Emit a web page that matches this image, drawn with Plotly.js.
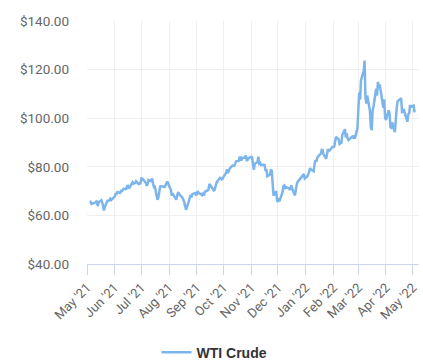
<!DOCTYPE html>
<html>
<head>
<meta charset="utf-8">
<script src="https://cdn.plot.ly/plotly-3.0.1.min.js"></script>
<style>
  html, body { margin: 0; padding: 0; background: #ffffff; }
  #chart { width: 423px; height: 362px; }
</style>
</head>
<body>
<div id="chart"></div>
<script>
const seriesName = "WTI Crude";

const dates = [
  "2021-05-04","2021-05-05","2021-05-06","2021-05-07","2021-05-10","2021-05-11","2021-05-12","2021-05-13","2021-05-14",
  "2021-05-17","2021-05-18","2021-05-19","2021-05-20","2021-05-21","2021-05-24","2021-05-25","2021-05-26","2021-05-27","2021-05-28",
  "2021-06-01","2021-06-02","2021-06-03","2021-06-04","2021-06-07","2021-06-08","2021-06-09","2021-06-10","2021-06-11",
  "2021-06-14","2021-06-15","2021-06-16","2021-06-17","2021-06-18","2021-06-21","2021-06-22","2021-06-23","2021-06-24","2021-06-25",
  "2021-06-28","2021-06-29","2021-06-30",
  "2021-07-01","2021-07-02","2021-07-06","2021-07-07","2021-07-08","2021-07-09","2021-07-12","2021-07-13","2021-07-14","2021-07-15","2021-07-16",
  "2021-07-19","2021-07-20","2021-07-21","2021-07-22","2021-07-23","2021-07-26","2021-07-27","2021-07-28","2021-07-29","2021-07-30",
  "2021-08-02","2021-08-03","2021-08-04","2021-08-05","2021-08-06","2021-08-09","2021-08-10","2021-08-11","2021-08-12","2021-08-13",
  "2021-08-16","2021-08-17","2021-08-18","2021-08-19","2021-08-20","2021-08-23","2021-08-24","2021-08-25","2021-08-26","2021-08-27",
  "2021-08-30","2021-08-31",
  "2021-09-01","2021-09-02","2021-09-03","2021-09-07","2021-09-08","2021-09-09","2021-09-10","2021-09-13","2021-09-14","2021-09-15",
  "2021-09-16","2021-09-17","2021-09-20","2021-09-21","2021-09-22","2021-09-23","2021-09-24","2021-09-27","2021-09-28","2021-09-29","2021-09-30",
  "2021-10-01","2021-10-04","2021-10-05","2021-10-06","2021-10-07","2021-10-08","2021-10-11","2021-10-12","2021-10-13","2021-10-14",
  "2021-10-15","2021-10-18","2021-10-19","2021-10-20","2021-10-21","2021-10-22","2021-10-25","2021-10-26","2021-10-27","2021-10-28","2021-10-29",
  "2021-11-01","2021-11-02","2021-11-03","2021-11-04","2021-11-05","2021-11-08","2021-11-09","2021-11-10","2021-11-11","2021-11-12",
  "2021-11-15","2021-11-16","2021-11-17","2021-11-18","2021-11-19","2021-11-22","2021-11-23","2021-11-24","2021-11-26","2021-11-29","2021-11-30",
  "2021-12-01","2021-12-02","2021-12-03","2021-12-06","2021-12-07","2021-12-08","2021-12-09","2021-12-10","2021-12-13","2021-12-14",
  "2021-12-15","2021-12-16","2021-12-17","2021-12-20","2021-12-21","2021-12-22","2021-12-23","2021-12-27","2021-12-28","2021-12-29",
  "2021-12-30","2021-12-31",
  "2022-01-03","2022-01-04","2022-01-05","2022-01-06","2022-01-07","2022-01-10","2022-01-11","2022-01-12","2022-01-13","2022-01-14",
  "2022-01-18","2022-01-19","2022-01-20","2022-01-21","2022-01-24","2022-01-25","2022-01-26","2022-01-27","2022-01-28","2022-01-31",
  "2022-02-01","2022-02-02","2022-02-03","2022-02-04","2022-02-07","2022-02-08","2022-02-09","2022-02-10","2022-02-11","2022-02-14",
  "2022-02-15","2022-02-16","2022-02-17","2022-02-18","2022-02-22","2022-02-23","2022-02-24","2022-02-25","2022-02-28",
  "2022-03-01","2022-03-02","2022-03-03","2022-03-04","2022-03-07","2022-03-08","2022-03-09","2022-03-10","2022-03-11","2022-03-14",
  "2022-03-15","2022-03-16","2022-03-17","2022-03-18","2022-03-21","2022-03-22","2022-03-23","2022-03-24","2022-03-25","2022-03-28",
  "2022-03-29","2022-03-30","2022-03-31",
  "2022-04-01","2022-04-04","2022-04-05","2022-04-06","2022-04-07","2022-04-08","2022-04-11","2022-04-12","2022-04-13","2022-04-14",
  "2022-04-18","2022-04-19","2022-04-20","2022-04-21","2022-04-22","2022-04-25","2022-04-26","2022-04-27","2022-04-28","2022-04-29",
  "2022-05-02","2022-05-03"
];

const prices = [
  65.69,65.63,64.71,64.90,65.28,65.37,66.08,63.82,65.37,
  66.27,65.49,63.36,62.05,63.58,66.05,66.07,66.21,66.85,66.32,
  67.72,68.83,68.81,69.62,69.23,70.05,69.96,70.29,70.91,
  70.88,72.12,72.15,71.04,71.64,73.66,73.06,73.08,73.30,74.05,
  72.91,72.98,73.47,
  75.23,75.16,73.37,72.20,72.94,74.56,74.10,75.25,73.13,71.65,71.81,
  66.42,67.42,70.30,71.91,72.07,71.91,71.65,72.39,73.62,73.95,
  71.26,70.56,68.15,69.09,68.28,66.48,68.29,69.25,69.09,68.44,
  67.29,66.59,65.46,63.69,62.32,65.64,67.54,68.36,67.42,68.74,
  69.21,68.50,
  68.59,69.99,69.29,68.35,69.30,68.14,69.72,70.45,70.46,72.61,
  72.61,71.97,70.29,70.56,72.23,73.30,73.98,75.45,75.29,74.83,75.03,
  75.88,77.62,78.93,77.43,78.30,79.35,80.52,80.64,80.44,81.31,
  82.28,82.44,83.87,83.87,82.50,83.76,83.76,84.65,82.66,82.81,83.57,
  84.05,83.91,80.86,78.81,81.27,81.93,84.15,81.34,81.59,80.79,
  80.88,80.76,78.36,79.01,76.10,76.75,78.50,78.39,68.15,69.95,66.18,
  65.57,66.50,66.26,69.49,72.05,72.36,70.94,71.67,71.29,70.73,
  70.87,72.38,70.86,68.23,71.12,72.76,73.79,75.57,75.98,76.56,
  76.99,75.21,
  76.08,76.99,77.85,79.46,78.90,78.23,81.22,82.64,82.12,83.82,
  85.43,86.96,86.90,85.14,83.31,85.60,87.35,86.61,86.82,88.15,
  88.20,88.26,90.27,92.31,91.32,89.36,89.66,89.88,93.10,95.46,
  92.07,93.66,91.76,91.07,92.35,92.10,92.81,91.59,95.72,
  103.41,110.60,107.67,115.68,119.40,123.70,108.70,106.02,109.33,103.01,
  96.44,95.04,102.98,104.70,112.12,109.27,114.93,112.34,113.90,105.96,
  104.24,107.82,100.28,
  99.27,103.28,101.96,96.23,96.03,98.26,94.29,100.60,104.25,106.95,
  108.21,102.56,102.75,103.79,102.07,98.54,101.70,102.02,105.36,104.69,
  105.17,102.41
];

const yTicks = [40, 60, 80, 100, 120, 140];
const xRange = ["2021-05-01", "2022-05-08"];

const trace = {
  x: dates,
  y: prices,
  type: "scatter",
  mode: "lines",
  name: seriesName,
  line: { color: "#7cb5ec", width: 2.5 },
  showlegend: true
};

const layout = {
  width: 423,
  height: 362,
  margin: { l: 87, r: 4, t: 21, b: 98, autoexpand: false },
  paper_bgcolor: "#ffffff",
  plot_bgcolor: "#ffffff",
  font: { family: "Roboto, 'Open Sans', sans-serif", size: 13, color: "#666666" },
  xaxis: {
    type: "date",
    range: xRange,
    dtick: "M1",
    tick0: "2021-05-01",
    tickformat: "%b '%y",
    tickangle: -45,
    ticks: "outside",
    ticklen: 10,
    tickcolor: "#ccd6eb",
    showline: true,
    linecolor: "#ccd6eb",
    linewidth: 1,
    showgrid: true,
    gridcolor: "#f0f0f0",
    gridwidth: 1,
    zeroline: false,
    automargin: false,
    tickfont: { family: "Roboto, sans-serif", size: 13, color: "#666666" }
  },
  yaxis: {
    range: [40, 140],
    tickvals: yTicks,
    tickformat: "$.2f",
    showgrid: true,
    gridcolor: "#f0f0f0",
    gridwidth: 1,
    zeroline: false,
    showline: false,
    ticks: "",
    automargin: false,
    ticklabelstandoff: 17,
    tickfont: { family: "Roboto, sans-serif", size: 13.5, color: "#666666" }
  },
  legend: {
    orientation: "h",
    x: 0.384,
    xanchor: "center",
    y: -0.365,
    yanchor: "middle",
    font: { family: "'Liberation Sans', Arial, sans-serif", size: 14, color: "#333333", weight: "bold" },
    itemwidth: 30
  },
  showlegend: true,
  hovermode: false
};

Plotly.newPlot("chart", [trace], layout, { staticPlot: true, displayModeBar: false });
</script>
</body>
</html>
